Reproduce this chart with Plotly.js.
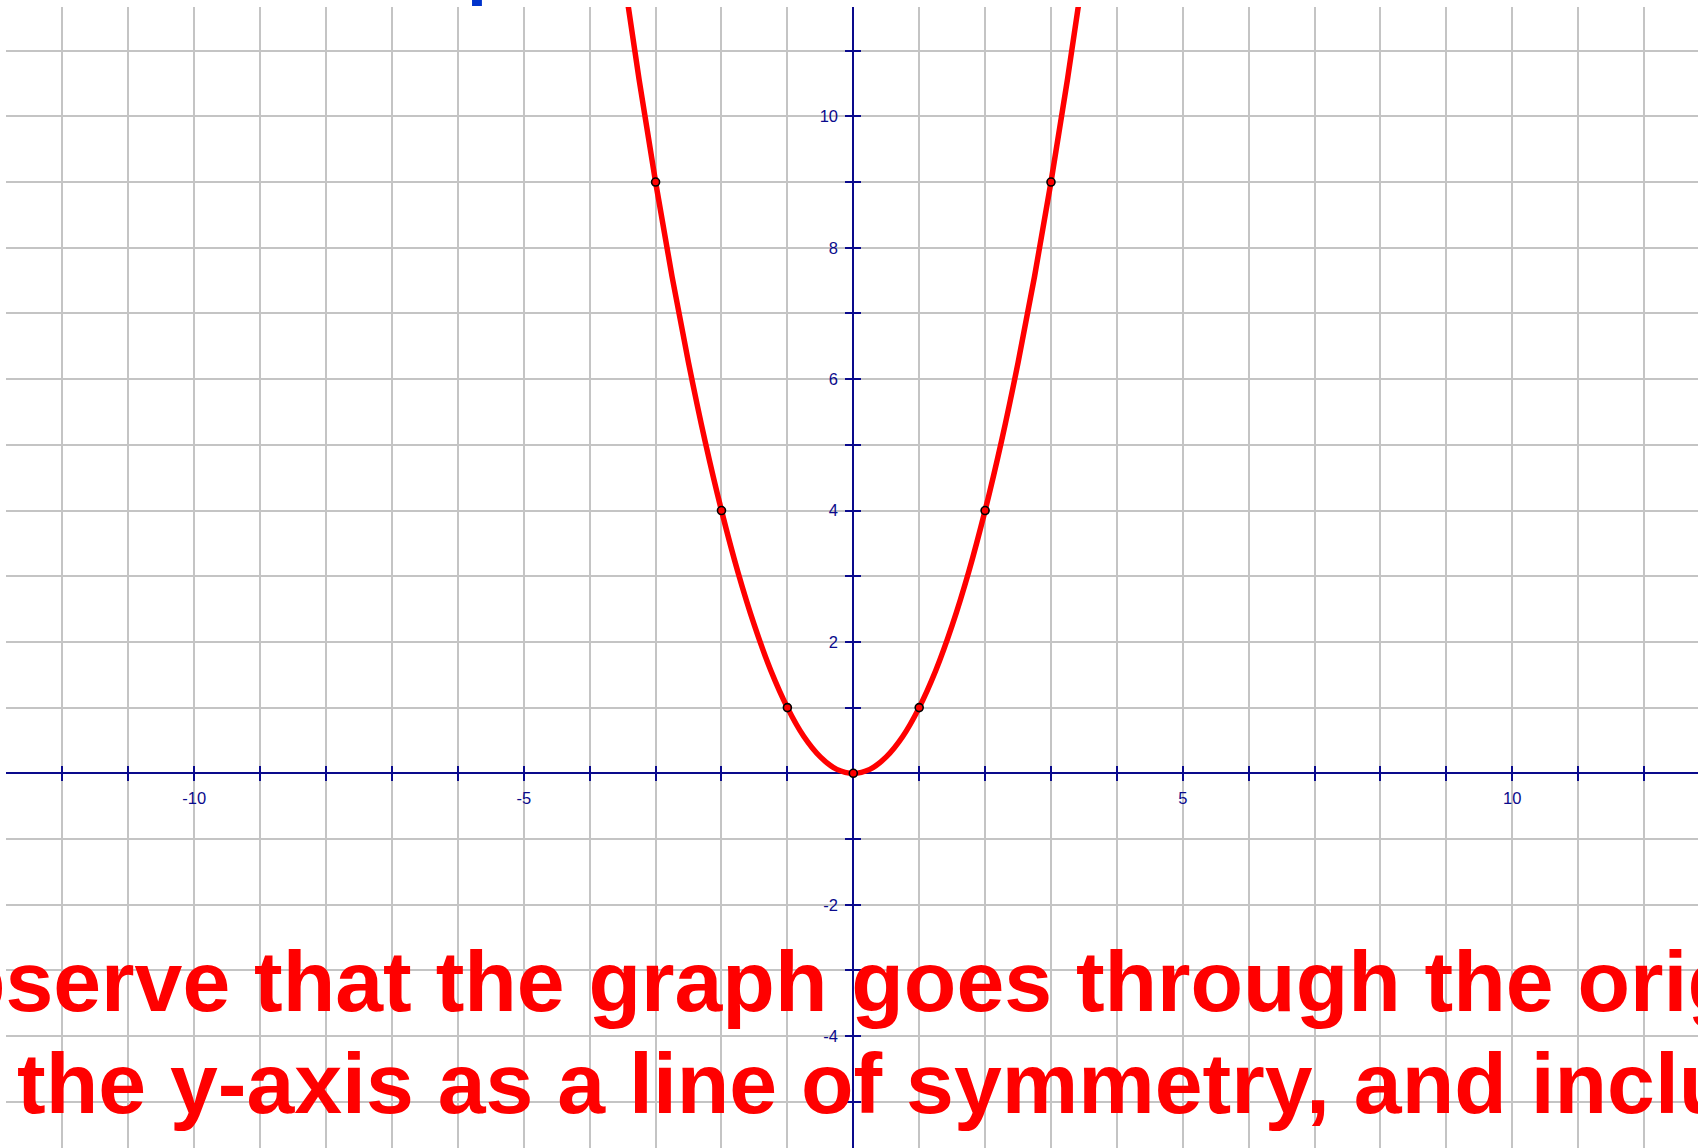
<!DOCTYPE html>
<html>
<head>
<meta charset="utf-8">
<script src="https://cdn.plot.ly/plotly-3.0.1.min.js"></script>
<style>
html,body{margin:0;padding:0;background:#fff;overflow:hidden;}
#chart{width:1698px;height:1148px;}
</style>
</head>
<body>
<div id="chart"></div>
<script>
// ---- data ----
const curveX = [-3.5, -3.25, -3, -2.75, -2.5, -2.25, -2, -1.75, -1.5, -1.25, -1, -0.75, -0.5, -0.25, 0,
                0.25, 0.5, 0.75, 1, 1.25, 1.5, 1.75, 2, 2.25, 2.5, 2.75, 3, 3.25, 3.5];
const curveY = [12.25, 10.56, 9, 7.56, 6.25, 5.06, 4, 3.06, 2.25, 1.56, 1, 0.56, 0.25, 0.06, 0,
                0.06, 0.25, 0.56, 1, 1.56, 2.25, 3.06, 4, 5.06, 6.25, 7.56, 9, 10.56, 12.25];
const pointX = [-3, -2, -1, 0, 1, 2, 3];
const pointY = [9, 4, 1, 0, 1, 4, 9];
const xTickVals = [-12,-11,-10,-9,-8,-7,-6,-5,-4,-3,-2,-1,0,1,2,3,4,5,6,7,8,9,10,11,12];
const xTickText = ['','','-10','','','','','-5','','','','','','','','','','5','','','','','10','',''];
const yTickVals = [-5,-4,-3,-2,-1,0,1,2,3,4,5,6,7,8,9,10,11];
const yTickText = ['','-4','','-2','','','','2','','4','','6','','8','','10',''];
const line1 = 'Observe that the graph goes through the origin, has';
const line2 = 'has the y-axis as a line of symmetry, and includes the points';
const topFragment = 'p';

// ---- layout geometry ----
const W = 1698, H = 1148;
const M = {l: 6, r: 0, t: 7, b: 0};
const xRange = [-12.857, 12.818];
const yRange = [-5.703, 11.664];
const pw = W - M.l - M.r, ph = H - M.t - M.b;
const px2paperX = p => (p - M.l) / pw;
const px2paperY = p => 1 - (p - M.t) / ph;
const xAxisPos = (0 - yRange[0]) / (yRange[1] - yRange[0]);
const yAxisPos = (0 - xRange[0]) / (xRange[1] - xRange[0]);

const navy = '#0a0a8c';
const grid = '#c4c4c4';
const tickFont = {family: 'Liberation Sans, Arial, sans-serif', size: 16.5, color: navy};

const traces = [
  {x: curveX, y: curveY, mode: 'lines', type: 'scatter',
   line: {color: '#ff0000', width: 5.5, shape: 'spline', smoothing: 1.0},
   hoverinfo: 'skip', showlegend: false},
  {x: pointX, y: pointY, mode: 'markers', type: 'scatter',
   marker: {symbol: 'circle', size: 8, color: '#ff0000', line: {color: '#000000', width: 1.6}},
   hoverinfo: 'skip', showlegend: false},
  {x: [], y: [], xaxis: 'x2', yaxis: 'y2', type: 'scatter', mode: 'markers', showlegend: false}
];

const baseX = {
  range: xRange, tickmode: 'array', tickvals: xTickVals, ticktext: xTickText,
  showgrid: true, gridcolor: grid, gridwidth: 2, zeroline: false,
  showline: true, linecolor: navy, linewidth: 2,
  anchor: 'free', position: xAxisPos,
  ticks: 'outside', ticklen: 7, tickwidth: 2, tickcolor: navy,
  tickfont: tickFont, ticklabelstandoff: 3, layer: 'below traces', fixedrange: true
};
const baseY = {
  range: yRange, tickmode: 'array', tickvals: yTickVals, ticktext: yTickText,
  showgrid: true, gridcolor: grid, gridwidth: 2, zeroline: false,
  showline: true, linecolor: navy, linewidth: 2,
  anchor: 'free', position: yAxisPos,
  ticks: 'outside', ticklen: 7, tickwidth: 2, tickcolor: navy,
  tickfont: tickFont, ticklabelstandoff: 4, layer: 'below traces', fixedrange: true
};

const layout = {
  width: W, height: H,
  margin: M,
  paper_bgcolor: '#ffffff', plot_bgcolor: '#ffffff',
  showlegend: false,
  xaxis: baseX,
  yaxis: baseY,
  xaxis2: {range: xRange, overlaying: 'x', anchor: 'free', position: xAxisPos,
    tickmode: 'array', tickvals: xTickVals, showticklabels: false,
    ticks: 'inside', ticklen: 7, tickwidth: 2, tickcolor: navy,
    showgrid: false, zeroline: false, showline: false, layer: 'below traces', fixedrange: true},
  yaxis2: {range: yRange, overlaying: 'y', anchor: 'free', position: yAxisPos,
    tickmode: 'array', tickvals: yTickVals, showticklabels: false,
    ticks: 'inside', ticklen: 7, tickwidth: 2, tickcolor: navy,
    showgrid: false, zeroline: false, showline: false, layer: 'below traces', fixedrange: true},
  annotations: [
    {text: '<b>' + line1 + '</b>', xref: 'paper', yref: 'paper',
     x: px2paperX(-116), y: px2paperY(981), xanchor: 'left', yanchor: 'middle',
     showarrow: false, font: {family: 'Liberation Sans, Arial, sans-serif', size: 86, color: '#ff0000'}},
    {text: '<b>' + line2 + '</b>', xref: 'paper', yref: 'paper',
     x: px2paperX(-157.5), y: px2paperY(1083), xanchor: 'left', yanchor: 'middle',
     showarrow: false, font: {family: 'Liberation Sans, Arial, sans-serif', size: 86, color: '#ff0000'}},
    {text: '<b>' + topFragment + '</b>', xref: 'paper', yref: 'paper',
     x: px2paperX(465), y: px2paperY(-34), xanchor: 'left', yanchor: 'middle',
     showarrow: false, font: {family: 'Liberation Sans, Arial, sans-serif', size: 72, color: '#0033cc'}}
  ]
};

Plotly.newPlot('chart', traces, layout, {staticPlot: true, displayModeBar: false});
</script>
</body>
</html>
